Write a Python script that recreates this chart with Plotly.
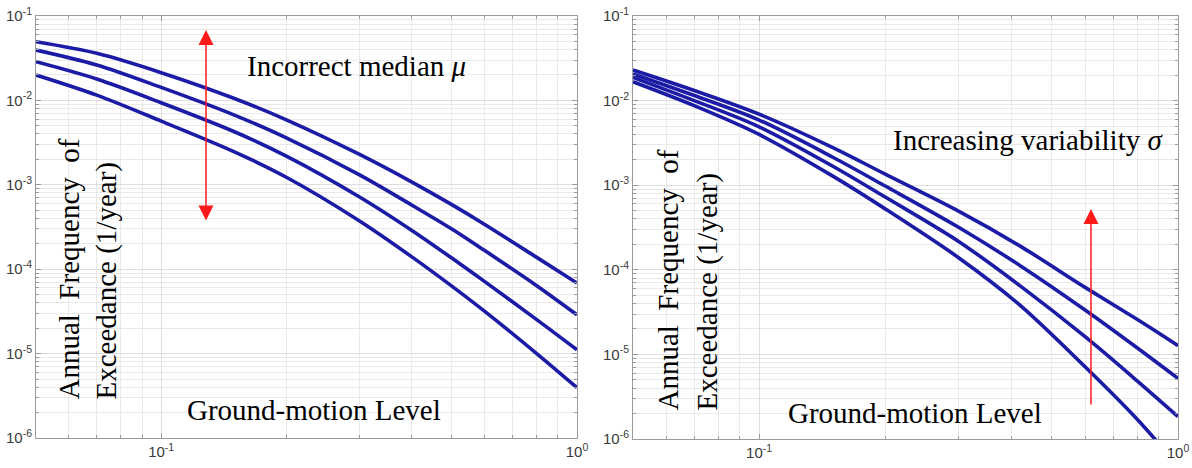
import plotly.graph_objects as go

# ---------------- data ----------------
x_left = [0.05, 0.07, 0.1, 0.15, 0.2, 0.3, 0.4, 0.5, 0.6, 0.8, 1.0]
left_c1 = [0.0495, 0.0361, 0.0213, 0.01054, 0.00589, 0.00229, 0.001084, 5.82e-4, 3.39e-4, 1.38e-4, 6.85e-5]
left_c2 = [0.0395, 0.0263, 0.01426, 0.0067, 0.0036, 0.00131, 5.77e-4, 2.99e-4, 1.66e-4, 6.38e-5, 2.88e-5]
left_c3 = [0.0287, 0.0179, 0.00938, 0.00425, 0.00219, 7.18e-4, 2.9e-4, 1.355e-4, 7.13e-5, 2.53e-5, 1.11e-5]
left_c4 = [0.0200, 0.01156, 0.00569, 0.00246, 0.00123, 3.73e-4, 1.41e-4, 6.3e-5, 3.16e-5, 1.0e-5, 3.94e-6]

x_right = [0.05, 0.07, 0.1, 0.15, 0.2, 0.3, 0.42, 0.6, 0.8, 1.0]
right_c1 = [0.0230, 0.01318, 0.00692, 0.00278, 0.00135, 4.9e-4, 1.905e-4, 6.2e-5, 2.58e-5, 1.27e-5]
right_c2 = [0.0206, 0.01148, 0.00589, 0.00214, 9.77e-4, 3.16e-4, 1.12e-4, 3.35e-5, 1.19e-5, 5.2e-6]
right_c3 = [0.01884, 0.0100, 0.0049, 0.001675, 7.24e-4, 2.15e-4, 6.46e-5, 1.62e-5, 4.84e-6, 1.84e-6]
right_c4 = [0.0167, 0.00871, 0.00398, 0.00128, 5.25e-4, 1.38e-4, 3.8e-5, 7.14e-6, 1.7e-6, 4.8e-7]

x_major = [0.1, 1.0]
y_major = [1e-6, 1e-5, 1e-4, 1e-3, 1e-2, 1e-1]
label_x = ["10<sup>-1</sup>", "10<sup>0</sup>"]
label_y = ["10<sup>-6</sup>", "10<sup>-5</sup>", "10<sup>-4</sup>", "10<sup>-3</sup>", "10<sup>-2</sup>", "10<sup>-1</sup>"]

ylabel_line1 = "Annual&nbsp; Frequency&nbsp; of"
ylabel_line2 = "Exceedance (1/year)"
xlabel = "Ground-motion Level"
note_left = "Incorrect median <i>μ</i>"
note_right = "Increasing variability <i>σ</i>"

# ---------------- styling ----------------
W, H = 1192, 468
CURVE = "#1b1ba6"
GRID = "#dedede"
GRID_MINOR = "#e9e9e9"
AX = "#9a9a9a"
SERIF = "Liberation Serif"


def px(xp):
    return xp / W


def py(yp):
    return 1 - yp / H


fig = go.Figure()
for ys in [left_c1, left_c2, left_c3, left_c4]:
    fig.add_trace(go.Scatter(x=x_left, y=ys, mode="lines", xaxis="x", yaxis="y",
                             line=dict(color=CURVE, width=3.6, shape="spline", smoothing=0.9),
                             showlegend=False, hoverinfo="skip"))
for ys in [right_c1, right_c2, right_c3, right_c4]:
    fig.add_trace(go.Scatter(x=x_right, y=ys, mode="lines", xaxis="x2", yaxis="y2",
                             line=dict(color=CURVE, width=3.6, shape="spline", smoothing=0.9),
                             showlegend=False, hoverinfo="skip"))

tickfont = dict(family="Liberation Sans", size=15, color="#3a3a3a")
minor = dict(dtick="D1", showgrid=True, gridcolor=GRID_MINOR, gridwidth=1,
             ticks="inside", ticklen=3, tickcolor=AX)
xcommon = dict(type="log", range=[-1.30103, 0], tickmode="array", tickvals=x_major, ticktext=label_x,
               showgrid=True, gridcolor=GRID, gridwidth=1, showline=True, linecolor=AX, linewidth=1,
               mirror="ticks", ticks="inside", ticklen=5, tickcolor=AX, zeroline=False,
               tickfont=tickfont, automargin=False, minor=minor)
ycommon = dict(type="log", range=[-6, -1], tickmode="array", tickvals=y_major, ticktext=label_y,
               showgrid=True, gridcolor=GRID, gridwidth=1, showline=True, linecolor=AX, linewidth=1,
               mirror="ticks", ticks="inside", ticklen=5, tickcolor=AX, zeroline=False,
               tickfont=tickfont, automargin=False, minor=minor)

fig.update_layout(
    width=W, height=H,
    margin=dict(l=0, r=0, t=0, b=0),
    paper_bgcolor="white", plot_bgcolor="white",
    xaxis=dict(domain=[px(36), px(577)], anchor="y", **xcommon),
    yaxis=dict(domain=[py(438), py(16)], anchor="x", **ycommon),
    xaxis2=dict(domain=[px(633), px(1178)], anchor="y2", **xcommon),
    yaxis2=dict(domain=[py(439), py(16)], anchor="x2", **ycommon),
)

tfont = dict(family=SERIF, size=29, color="black")
ann = []
# left panel texts
ann.append(dict(x=px(245), y=py(66), xref="paper", yref="paper", text=note_left, showarrow=False,
                xanchor="left", yanchor="middle", font=tfont))
ann.append(dict(x=px(185), y=py(410), xref="paper", yref="paper", text=xlabel, showarrow=False,
                xanchor="left", yanchor="middle", font=tfont))
ann.append(dict(x=px(68), y=py(402), xref="paper", yref="paper", text=ylabel_line1, showarrow=False,
                xanchor="center", yanchor="bottom", textangle=-90, font=tfont))
ann.append(dict(x=px(106), y=py(402), xref="paper", yref="paper", text=ylabel_line2, showarrow=False,
                xanchor="center", yanchor="bottom", textangle=-90, font=tfont))
# right panel texts
ann.append(dict(x=px(891), y=py(140), xref="paper", yref="paper", text=note_right, showarrow=False,
                xanchor="left", yanchor="middle", font=tfont))
ann.append(dict(x=px(786), y=py(413), xref="paper", yref="paper", text=xlabel, showarrow=False,
                xanchor="left", yanchor="middle", font=tfont))
ann.append(dict(x=px(667), y=py(413), xref="paper", yref="paper", text=ylabel_line1, showarrow=False,
                xanchor="center", yanchor="bottom", textangle=-90, font=tfont))
ann.append(dict(x=px(707), y=py(413), xref="paper", yref="paper", text=ylabel_line2, showarrow=False,
                xanchor="center", yanchor="bottom", textangle=-90, font=tfont))
# arrows
ann.append(dict(x=px(206), y=py(30), xref="paper", yref="paper", axref="pixel", ayref="pixel",
                ax=0, ay=192, text="", showarrow=True, arrowcolor="#ff1a1a", arrowwidth=1.5,
                arrowhead=2, arrowsize=2, arrowside="end+start", startarrowhead=2, startarrowsize=2,
                standoff=0, startstandoff=0))
ann.append(dict(x=px(1091), y=py(209), xref="paper", yref="paper", axref="pixel", ayref="pixel",
                ax=0, ay=197, text="", showarrow=True, arrowcolor="#ff1a1a", arrowwidth=1.5,
                arrowhead=2, arrowsize=2, standoff=0))
fig.update_layout(annotations=ann)

fig.write_html("out.html")
